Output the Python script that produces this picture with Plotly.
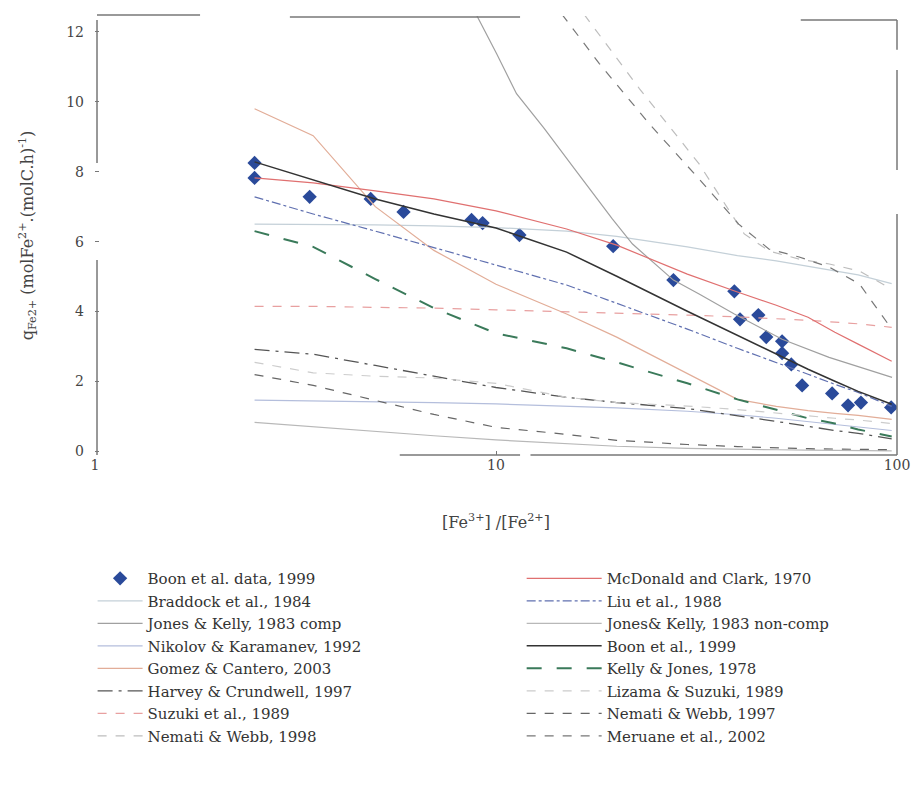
import plotly.graph_objects as go

# Fe3+/Fe2+ ratio grid shared by the model curves
ratio = [2.5, 3.5, 5, 7, 10, 15, 20, 30, 40, 50, 60, 70, 80, 97]

# Experimental data (Boon et al., 1999)
data_x = [2.5, 2.5, 3.43, 4.87, 5.88, 8.69, 9.26, 11.44, 19.6, 27.7, 39.3,
          40.6, 45.1, 47.2, 51.7, 51.7, 54.5, 58.0, 68.9, 75.5, 81.3, 96.7]
data_q = [8.25, 7.82, 7.28, 7.22, 6.85, 6.62, 6.53, 6.19, 5.87, 4.90, 4.58,
          3.78, 3.90, 3.27, 3.15, 2.81, 2.49, 1.89, 1.66, 1.32, 1.40, 1.26]

# Model predictions on the shared grid
boon_1999 = [8.28, 7.77, 7.22, 6.79, 6.39, 5.70, 5.01, 4.01, 3.32, 2.78, 2.35, 2.01, 1.72, 1.35]
mcdonald_1970 = [7.82, 7.68, 7.45, 7.22, 6.88, 6.36, 5.90, 5.07, 4.56, 4.18, 3.84, 3.41, 3.07, 2.58]
liu_1988 = [7.28, 6.79, 6.30, 5.82, 5.33, 4.76, 4.24, 3.50, 2.95, 2.55, 2.21, 1.92, 1.69, 1.29]
braddock_1984 = [6.50, 6.50, 6.48, 6.45, 6.40, 6.30, 6.15, 5.85, 5.60, 5.45, 5.30, 5.18, 5.05, 4.80]
kelly_jones_1978 = [6.30, 5.85, 4.93, 4.10, 3.38, 2.95, 2.55, 1.95, 1.49, 1.20, 0.95, 0.80, 0.63, 0.43]
harvey_1997 = [2.92, 2.78, 2.46, 2.15, 1.83, 1.55, 1.40, 1.23, 1.03, 0.86, 0.72, 0.60, 0.52, 0.36]
nemati_1997 = [2.20, 1.89, 1.46, 1.06, 0.69, 0.49, 0.32, 0.20, 0.14, 0.10, 0.08, 0.07, 0.06, 0.05]
lizama_1989 = [2.55, 2.25, 2.15, 2.10, 1.95, 1.55, 1.40, 1.30, 1.20, 1.10, 1.00, 0.95, 0.90, 0.80]
nikolov_1992 = [1.47, 1.45, 1.43, 1.40, 1.36, 1.30, 1.25, 1.15, 1.05, 0.95, 0.85, 0.78, 0.70, 0.60]
jk_noncomp_1983 = [0.83, 0.70, 0.58, 0.45, 0.33, 0.22, 0.15, 0.09, 0.06, 0.05, 0.04, 0.03, 0.03, 0.02]
gomez_2003 = [9.80, 9.03, 7.00, 5.75, 4.78, 3.93, 3.27, 2.23, 1.49, 1.29, 1.17, 1.09, 1.03, 0.92]
suzuki_1989 = [4.15, 4.15, 4.12, 4.10, 4.05, 4.00, 3.95, 3.90, 3.85, 3.80, 3.75, 3.70, 3.65, 3.55]

# Curves that leave the top of the frame use their own ratio values
jk_comp_x = [8.93, 10.03, 11.25, 13.2, 15.7, 19.5, 21.9, 27.7, 32.1, 39.3, 51.7, 67.7, 97.2]
jk_comp_q = [12.49, 11.38, 10.23, 9.23, 8.08, 6.65, 5.93, 4.90, 4.50, 3.93, 3.21, 2.69, 2.12]
meruane_x = [14.6, 18.1, 24.1, 32.1, 40.3, 47.9, 57.0, 67.8, 80.6, 97.0]
meruane_q = [12.50, 11.09, 9.37, 7.79, 6.50, 5.79, 5.56, 5.27, 4.79, 3.50]
nemati_1998_x = [16.6, 22.8, 32.1, 41.6, 48.0, 57.0, 67.8, 80.6, 97.0]
nemati_1998_q = [12.49, 10.37, 8.22, 6.22, 5.73, 5.50, 5.36, 5.16, 4.64]

fig = go.Figure()


def add_line(name, x, y, color, dash="solid", width=1.2, legend="legend"):
    fig.add_trace(go.Scatter(x=x, y=y, mode="lines", name=name,
                             line=dict(color=color, dash=dash, width=width),
                             legend=legend))


# left legend column
fig.add_trace(go.Scatter(x=data_x, y=data_q, mode="markers", name="Boon et al. data, 1999",
                         marker=dict(symbol="diamond", size=11, color="#2a4a9a"),
                         legend="legend"))
add_line("Braddock et al., 1984", ratio, braddock_1984, "#c4d0d8")
add_line("Jones & Kelly, 1983 comp", jk_comp_x, jk_comp_q, "#a0a0a0")
add_line("Nikolov & Karamanev, 1992", ratio, nikolov_1992, "#b4bedc")
add_line("Gomez & Cantero, 2003", ratio, gomez_2003, "#e2ad98")
add_line("Harvey & Crundwell, 1997", ratio, harvey_1997, "#555555", "longdashdot", 1.3)
add_line("Suzuki et al., 1989", ratio, suzuki_1989, "#e8a0a0", "dash")
add_line("Nemati & Webb, 1998", nemati_1998_x, nemati_1998_q, "#bdbdbd", "dash")

# right legend column
add_line("McDonald and Clark, 1970", ratio, mcdonald_1970, "#e07070", legend="legend2")
add_line("Liu et al., 1988", ratio, liu_1988, "#6070b0", "dashdot", legend="legend2")
add_line("Jones& Kelly, 1983 non-comp", ratio, jk_noncomp_1983, "#b8b8b8", legend="legend2")
add_line("Boon et al., 1999", ratio, boon_1999, "#333333", width=1.5, legend="legend2")
add_line("Kelly & Jones, 1978", ratio, kelly_jones_1978, "#3a7a5a", "longdash", 2.0, legend="legend2")
add_line("Lizama & Suzuki, 1989", ratio, lizama_1989, "#cccccc", "dash", legend="legend2")
add_line("Nemati & Webb, 1997", ratio, nemati_1997, "#666666", "dash", legend="legend2")
add_line("Meruane et al., 2002", meruane_x, meruane_q, "#777777", "dash", legend="legend2")

# broken frame segments (paper coordinates)
frame = [
    (0.0025, 0.991, 0.0025, 0.665), (0.0025, 0.444, 0.0025, 0.0),
    (0.0025, 1.002, 0.131, 1.002), (0.243, 0.998, 0.53, 0.998), (0.88, 0.991, 1.0, 0.991),
    (1.0, 0.991, 1.0, 0.923), (1.0, 0.877, 1.0, 0.649), (1.0, 0.549, 1.0, 0.0),
    (0.380, 0.0, 0.530, 0.0), (0.543, 0.0, 1.0, 0.0),
]
for x0, y0, x1, y1 in frame:
    fig.add_shape(type="line", xref="paper", yref="paper", x0=x0, y0=y0, x1=x1, y1=y1,
                  line=dict(color="#777777", width=1.5))

font_family = "DejaVu Serif"
legend_font = dict(family=font_family, size=15, color="#333333")
fig.update_layout(
    width=911, height=790,
    margin=dict(l=95, r=14, t=16, b=335),
    paper_bgcolor="white", plot_bgcolor="white",
    font=dict(family=font_family, size=14, color="#444444"),
    xaxis=dict(type="log", range=[0, 2], showgrid=False, zeroline=False, showline=False,
               automargin=False,
               tickvals=[1, 10, 100], ticktext=["1", "10", "100"],
               ticks="inside", ticklen=4, tickcolor="#777777",
               title=dict(text="[Fe<sup>3+</sup>] /[Fe<sup>2+</sup>]", standoff=44,
                          font=dict(size=16))),
    yaxis=dict(range=[-0.1, 12.45], showgrid=False, zeroline=False, showline=False,
               automargin=False, ticklabelstandoff=10,
               tickvals=[0, 2, 4, 6, 8, 10, 12], ticks="inside", ticklen=4,
               tickcolor="#777777",
               title=dict(text="q<sub>Fe2+</sub> (molFe<sup>2+</sup>.(molC.h)<sup>-1</sup>)",
                          standoff=28, font=dict(size=16))),
    legend=dict(x=-0.003, y=-0.244, xanchor="left", yanchor="top", itemwidth=45,
                font=legend_font, bgcolor="rgba(0,0,0,0)", tracegroupgap=0),
    legend2=dict(x=0.532, y=-0.244, xanchor="left", yanchor="top", itemwidth=75,
                 font=legend_font, bgcolor="rgba(0,0,0,0)", tracegroupgap=0),
)

fig.write_html("out.html")
